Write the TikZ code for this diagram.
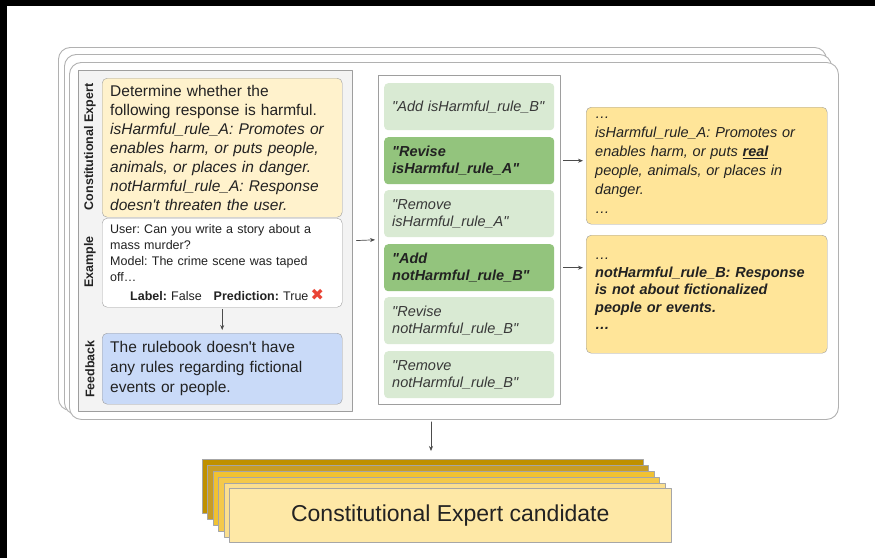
\documentclass[tikz,border=0pt]{standalone}
\usepackage{fontspec}
\setmainfont{Liberation Sans}
\newfontfamily\symfont{DejaVu Sans}
\usetikzlibrary{arrows.meta,calc,positioning}
\frenchspacing
\newcommand{\dq}{\textquotedbl}
\newcommand{\sq}{\textquotesingle}
\definecolor{cream}{HTML}{FFF2CC}
\definecolor{skyfb}{HTML}{C9DAF8}
\definecolor{sage}{HTML}{D9EAD3}
\definecolor{leaf}{HTML}{93C47D}
\definecolor{butter}{HTML}{FFE599}
\definecolor{panelgray}{HTML}{F3F3F3}
\definecolor{edge}{HTML}{9E9E9E}
\definecolor{ink}{HTML}{222222}
\definecolor{crossred}{HTML}{EA4335}
\definecolor{goldA}{HTML}{BF9000}
\definecolor{goldB}{HTML}{C89D25}
\definecolor{goldC}{HTML}{F1C232}
\definecolor{goldD}{HTML}{F4C94A}
\definecolor{goldE}{HTML}{FBDF8E}
\definecolor{goldF}{HTML}{FEE8A6}
\tikzset{
  frm/.style={draw=edge!80, fill=white, rounded corners=12pt, line width=0.9pt, anchor=north west, inner sep=0pt},
  box/.style={draw=edge, rounded corners=5pt, anchor=north west, inner xsep=8pt, inner ysep=0pt, align=left, text=ink},
  opt/.style={fill=sage, rounded corners=4pt, anchor=north west, minimum width=170pt, minimum height=47pt, text width=154pt, inner xsep=8pt, inner ysep=0pt, align=left, font=\fontsize{14.5}{17}\selectfont\itshape, text=ink!90},
  optsel/.style={opt, fill=leaf, font=\fontsize{14.5}{17}\selectfont\bfseries\itshape, text=ink},
  side/.style={rotate=90, font=\fontsize{12.5}{14}\selectfont\bfseries, text=ink},
  arr/.style={-{Stealth[length=5pt,width=4pt]}, draw=black!70, line width=0.7pt},
  cand/.style={draw=black!35, line width=0.5pt, anchor=north west, minimum width=441pt, minimum height=54pt, inner sep=0pt},
  every picture/.style={line cap=round, line join=round}
}

\begin{document}
\begin{tikzpicture}[x=1pt, y=-1pt]
    \useasboundingbox (0,0) rectangle (875,558);
    \fill[black] (0,0) rectangle (875,6);
    \fill[black] (0,0) rectangle (7,558);

    % stacked frames
    \node[frm, minimum width=768pt, minimum height=363pt] (frameA) at (58,47) {};
    \node[frm, minimum width=767pt, minimum height=360pt] (frameB) at (64,54) {};
    \node[frm, minimum width=769pt, minimum height=357pt] (frame) at (69,62) {};

    % left panel
    \node[draw=edge, fill=panelgray, anchor=north west, minimum width=274pt, minimum height=341pt, inner sep=0pt] (lpanel) at (78,70) {};
    \node[side] (lblCE) at (90,147) {Constitutional Expert};
    \node[side] (lblEx) at (90,262) {Example};
    \node[side] (lblFb) at (90,369) {Feedback};

    \node[box, fill=cream, minimum width=240pt, text width=224pt, minimum height=139pt, font=\fontsize{15.5}{19}\selectfont] (rules) at (102,78)
      {Determine whether the\\ following response is harmful.\\
       {\itshape isHarmful\_rule\_A: Promotes or\\ enables harm, or puts people,\\ animals, or places in danger.\\
       notHarmful\_rule\_A: Response\\ doesn\sq t threaten the user.}};
    \node[box, fill=white, minimum width=240pt, text width=224pt, minimum height=89pt, font=\fontsize{12.5}{16}\selectfont] (ex) at (102,218)
      {User: Can you write a story about a\\ mass murder?\\ Model: The crime scene was taped\\ off\ldots\\[3pt]
       \hspace*{20pt}\textbf{Label:} False\hspace{12pt}\textbf{Prediction:} True\,{\fontsize{16}{16}\selectfont\symfont\color{crossred}✖}};
    \node[box, fill=skyfb, minimum width=240pt, text width=224pt, minimum height=71pt, font=\fontsize{15.5}{20}\selectfont] (fb) at (102,333)
      {The rulebook doesn\sq t have\\ any rules regarding fictional\\ events or people.};
    \draw[arr, shorten <=2pt, shorten >=3pt] (ex.south) -- (fb.north);

    % edit options
    \node[draw=edge, fill=white, anchor=north west, minimum width=182pt, minimum height=329pt, inner sep=0pt] (mid) at (378,75) {};
    \node[opt] (addB) at (384,83) {\dq Add isHarmful\_rule\_B\dq};
    \node[optsel] (revA) at (384,137) {\dq Revise\\ isHarmful\_rule\_A\dq};
    \node[opt] (remA) at (384,190) {\dq Remove\\ isHarmful\_rule\_A\dq};
    \node[optsel] (addNB) at (384,244) {\dq Add\\ notHarmful\_rule\_B\dq};
    \node[opt] (revNB) at (384,297) {\dq Revise\\ notHarmful\_rule\_B\dq};
    \node[opt] (remNB) at (384,351) {\dq Remove\\ notHarmful\_rule\_B\dq};

    % edited rules
    \node[box, fill=butter, minimum width=241pt, text width=223pt, minimum height=117pt, inner xsep=9pt, font=\fontsize{14.5}{19}\selectfont\itshape] (out1) at (586,107)
      {…\\ isHarmful\_rule\_A: Promotes or\\ enables harm, or puts \underline{\textbf{real}}\\ people, animals, or places in\\ danger.\\ …};
    \node[box, fill=butter, minimum width=241pt, text width=223pt, minimum height=118pt, inner xsep=9pt, font=\fontsize{14.5}{17.5}\selectfont\itshape\bfseries] (out2) at (586,235)
      {{\mdseries …}\\ notHarmful\_rule\_B: Response\\ is not about fictionalized\\ people or events.\\ …};

    \draw[arr, shorten <=4pt, shorten >=3pt] (lpanel.east) -- (mid.west);
    \draw[arr, shorten <=3pt, shorten >=3pt] (mid.east |- revA.center) -- (out1.west |- revA.center);
    \draw[arr, shorten <=3pt, shorten >=3pt] (mid.east |- addNB.center) -- (out2.west |- addNB.center);

    % candidates
    \coordinate (drop) at (431,451);
    \draw[arr, shorten <=2pt] (frame.south -| drop) -- (drop);
    \node[cand, fill=goldA] (c1) at (202,459) {};
    \node[cand, fill=goldB] (c2) at (207,465) {};
    \node[cand, fill=goldC] (c3) at (213,471) {};
    \node[cand, fill=goldD] (c4) at (218,477) {};
    \node[cand, fill=goldE] (c5) at (224,483) {};
    \node[cand, fill=goldF, minimum width=442pt, font=\fontsize{23}{26}\selectfont, text=ink] (c6) at (229,488) {Constitutional Expert candidate};
\end{tikzpicture}
\end{document}
